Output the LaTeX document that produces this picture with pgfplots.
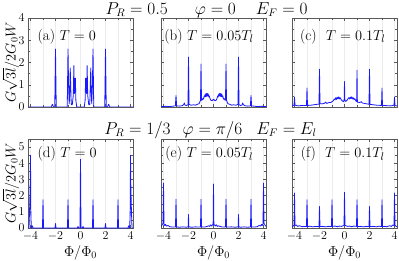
\documentclass[border=0pt]{standalone}
\usepackage{pgfplots}
\pgfplotsset{compat=1.18}
\definecolor{curve}{RGB}{25,25,255}
\pgfplotsset{
  panel/.style={
    scale only axis, width=105pt, height=89pt,
    xmin=-4.2, xmax=4.2,
    xtick={-4,-2,0,2,4}, minor xtick={-3,-1,1,3},
    xmajorgrids=true, xminorgrids=true,
    major grid style={gray!15, line width=0.5pt},
    minor grid style={gray!15, line width=0.5pt},
    minor y tick num=1,
    axis line style={black!65},
    every tick/.style={black!65},
    major tick length=3pt, minor tick length=2pt,
    tick label style={font=\fontsize{11.5}{13}\selectfont},
    label style={font=\fontsize{14.5}{16}\selectfont},
    xlabel style={at={(rel axis cs:0.5,-0.275)}, anchor=center},
    clip=true,
  },
  toprow/.style={ymin=0, ymax=4, ytick={0,1,2,3,4}, xticklabels={}},
  botrow/.style={ymin=0, ymax=5.5, ytick={0,1,2,3,4,5}, xlabel={$\Phi/\Phi_0$}},
  noy/.style={yticklabels={}},
  ylab/.style={ylabel={$G\sqrt{3l}/2G_0W$}, ylabel style={at={(rel axis cs:-0.165,0.5)}, anchor=center, inner sep=0.5pt, font=\fontsize{13.8}{15}\selectfont}},
  curv/.style={curve, line width=0.8pt, line join=round},
}
\newcommand{\plab}[3]{\node[anchor=base west, inner sep=0pt, font=\fontsize{15}{17}\selectfont] at (rel axis cs:#1,#2) {#3};}
\begin{document}
\begin{tikzpicture}
\useasboundingbox (0,0) rectangle (399pt,260pt);
% titles
\node[font=\fontsize{16}{18}\selectfont] at (206.5pt,250pt) {$P_R=0.5\hspace{27pt}\varphi=0\hspace{20pt}E_F=0$};
\node[font=\fontsize{16}{18}\selectfont] at (210.5pt,130pt) {$P_R=1/3\hspace{12pt}\varphi=\pi/6\hspace{14pt}E_F=E_l$};
% (a)
\begin{axis}[panel, toprow, ylab, at={(28pt,153pt)}, anchor=south west]
\addplot[curv] coordinates {
(-4.2,0) (-2.35,0) (-2.25,0.12) (-2.15,0) (-2.06,0) (-2.0,2.6) (-1.94,0)
(-1.06,0) (-1.0,2.6) (-0.95,0.9) (-0.9,0.15) (-0.86,0.6) (-0.82,1.75) (-0.78,0.9) (-0.74,0.1)
(-0.66,0.1) (-0.58,0.5) (-0.53,1.86) (-0.49,0.6) (-0.45,0.7) (-0.41,1.3) (-0.37,0.3) (-0.3,0)
(0.3,0) (0.37,0.3) (0.41,1.3) (0.45,0.7) (0.49,0.6) (0.53,1.86) (0.58,0.5) (0.66,0.1)
(0.74,0.1) (0.78,0.9) (0.82,1.75) (0.86,0.6) (0.9,0.15) (0.95,0.9) (1.0,2.6) (1.06,0)
(1.94,0) (2.0,2.6) (2.06,0) (2.15,0) (2.25,0.12) (2.35,0) (4.2,0)};
\plab{0.09}{0.75}{(a) $T=0$}
\end{axis}
% (b)
\begin{axis}[panel, toprow, noy, at={(161pt,153pt)}, anchor=south west]
\addplot[curv] coordinates {
(-4.2,0.02) (-3.8,0.03) (-3.5,0.02) (-3.2,0.04) (-3.05,0.05) (-3.0,0.52) (-2.95,0.05)
(-2.7,0.04) (-2.5,0.06) (-2.4,0.1) (-2.33,0.18) (-2.28,0.08) (-2.15,0.07) (-2.04,0.1) (-2.0,2.25) (-1.96,0.12)
(-1.8,0.08) (-1.6,0.1) (-1.45,0.08) (-1.3,0.12) (-1.15,0.15) (-1.04,0.3) (-1.0,1.93) (-0.96,0.3)
(-0.9,0.32) (-0.85,0.38) (-0.8,0.35) (-0.75,0.5) (-0.7,0.45) (-0.66,0.58) (-0.62,0.46) (-0.58,0.6)
(-0.54,0.48) (-0.5,0.62) (-0.46,0.5) (-0.42,0.58) (-0.38,0.45) (-0.34,0.5) (-0.28,0.38) (-0.2,0.3)
(-0.12,0.28) (-0.05,0.32) (0,0.35) (0.05,0.32) (0.12,0.28) (0.2,0.3) (0.28,0.38) (0.34,0.5)
(0.38,0.45) (0.42,0.58) (0.46,0.5) (0.5,0.62) (0.54,0.48) (0.58,0.6) (0.62,0.46) (0.66,0.58)
(0.7,0.45) (0.75,0.5) (0.8,0.35) (0.85,0.38) (0.9,0.32) (0.96,0.3) (1.0,1.93) (1.04,0.3)
(1.15,0.15) (1.3,0.12) (1.45,0.08) (1.6,0.1) (1.8,0.08) (1.96,0.12) (2.0,2.25) (2.04,0.1)
(2.15,0.07) (2.28,0.08) (2.33,0.18) (2.4,0.1) (2.5,0.06) (2.7,0.04) (2.95,0.05) (3.0,0.52) (3.05,0.05)
(3.2,0.04) (3.5,0.02) (3.8,0.03) (4.2,0.02)};
\plab{0.03}{0.75}{(b) $T=0.05T_l$}
\end{axis}
% (c)
\begin{axis}[panel, toprow, noy, at={(292pt,153pt)}, anchor=south west]
\addplot[curv] coordinates {
(-4.2,0.05) (-4.04,0.08) (-4.0,0.45) (-3.96,0.08) (-3.7,0.05) (-3.4,0.07) (-3.04,0.07) (-3.0,0.85) (-2.96,0.07)
(-2.7,0.08) (-2.45,0.1) (-2.2,0.12) (-2.04,0.12) (-2.0,1.7) (-1.96,0.15) (-1.8,0.14) (-1.6,0.17)
(-1.5,0.22) (-1.42,0.16) (-1.25,0.2) (-1.1,0.2) (-1.0,0.24) (-0.9,0.28) (-0.82,0.36) (-0.76,0.32)
(-0.7,0.42) (-0.64,0.34) (-0.58,0.44) (-0.52,0.36) (-0.46,0.46) (-0.4,0.36) (-0.34,0.42) (-0.27,0.33)
(-0.18,0.28) (-0.08,0.24) (-0.03,0.3) (0,1.15) (0.03,0.3) (0.1,0.25) (0.2,0.3) (0.27,0.36)
(0.33,0.42) (0.4,0.36) (0.46,0.45) (0.52,0.37) (0.58,0.46) (0.64,0.36) (0.7,0.42) (0.76,0.33)
(0.82,0.38) (0.9,0.28) (0.97,0.25) (1.0,1.65) (1.03,0.22) (1.2,0.2) (1.35,0.24) (1.42,0.18)
(1.6,0.16) (1.8,0.14) (1.96,0.12) (2.0,1.7) (2.04,0.12) (2.3,0.1) (2.6,0.08) (2.96,0.07)
(3.0,0.85) (3.04,0.07) (3.4,0.06) (3.7,0.05) (3.96,0.08) (4.0,0.45) (4.04,0.06) (4.2,0.05)};
\plab{0.075}{0.75}{(c)\ \ $T=0.1T_l$}
\end{axis}
% (d)
\begin{axis}[panel, botrow, ylab, at={(28pt,32pt)}, anchor=south west]
\addplot[curv] coordinates {
(-4.2,0) (-4.12,0) (-4.07,1.2) (-4.03,2.5) (-4.0,4.5) (-3.97,0.8) (-3.93,0) (-3.86,0.14) (-3.8,0)
(-3.04,0) (-3.0,1.75) (-2.96,0) (-2.04,0) (-2.0,0.27) (-1.96,0) (-1.04,0) (-1.0,1.75) (-0.96,0)
(-0.26,0) (-0.2,0.1) (-0.14,0) (-0.04,0) (0,4.25) (0.04,0) (0.14,0) (0.2,0.1) (0.26,0)
(0.96,0) (1.0,1.75) (1.04,0) (1.96,0) (2.0,0.27) (2.04,0) (2.96,0) (3.0,1.75) (3.04,0)
(3.8,0) (3.86,0.14) (3.93,0) (3.97,0.8) (4.0,4.5) (4.03,2.5) (4.07,1.2) (4.12,0) (4.2,0)};
\plab{0.09}{0.79}{(d) $T=0$}
\end{axis}
% (e)
\begin{axis}[panel, botrow, noy, at={(161pt,32pt)}, anchor=south west]
\addplot[curv] coordinates {
(-4.2,0.1) (-4.1,0.2) (-4.04,0.3) (-4.0,2.78) (-3.96,0.25) (-3.9,0.15) (-3.84,0.22) (-3.76,0.12) (-3.65,0.16)
(-3.5,0.08) (-3.3,0.06) (-3.04,0.06) (-3.0,1.77) (-2.96,0.06) (-2.7,0.05) (-2.45,0.07) (-2.2,0.05)
(-2.03,0.06) (-2.0,0.83) (-1.97,0.06) (-1.7,0.05) (-1.45,0.07) (-1.2,0.06) (-1.04,0.06) (-1.0,1.77) (-0.96,0.07)
(-0.7,0.06) (-0.5,0.1) (-0.38,0.14) (-0.3,0.1) (-0.22,0.2) (-0.14,0.12) (-0.07,0.2) (-0.03,0.22) (0,2.72)
(0.03,0.22) (0.07,0.2) (0.14,0.12) (0.22,0.2) (0.3,0.1) (0.38,0.14) (0.5,0.1) (0.7,0.06)
(0.96,0.07) (1.0,1.77) (1.04,0.06) (1.2,0.06) (1.45,0.07) (1.7,0.05) (1.97,0.06) (2.0,0.83) (2.03,0.06)
(2.2,0.05) (2.45,0.07) (2.7,0.05) (2.96,0.06) (3.0,1.77) (3.04,0.06) (3.3,0.06) (3.5,0.08)
(3.65,0.16) (3.76,0.12) (3.84,0.22) (3.9,0.15) (3.96,0.25) (4.0,2.78) (4.04,0.3) (4.1,0.2) (4.2,0.1)};
\plab{0.04}{0.79}{(e) $T=0.05T_l$}
\end{axis}
% (f)
\begin{axis}[panel, botrow, noy, at={(292pt,32pt)}, anchor=south west]
\addplot[curv] coordinates {
(-4.2,0.08) (-4.1,0.12) (-4.04,0.18) (-4.0,2.16) (-3.96,0.15) (-3.85,0.18) (-3.75,0.1) (-3.6,0.14) (-3.4,0.08)
(-3.2,0.1) (-3.04,0.09) (-3.0,1.74) (-2.96,0.09) (-2.75,0.11) (-2.55,0.07) (-2.3,0.1) (-2.04,0.08)
(-2.0,1.33) (-1.96,0.09) (-1.75,0.1) (-1.5,0.07) (-1.3,0.1) (-1.04,0.09) (-1.0,1.74) (-0.96,0.1)
(-0.75,0.12) (-0.55,0.08) (-0.4,0.12) (-0.25,0.1) (-0.12,0.14) (-0.04,0.15) (0,2.2) (0.04,0.15)
(0.12,0.14) (0.25,0.1) (0.4,0.12) (0.55,0.08) (0.75,0.12) (0.96,0.1) (1.0,1.74) (1.04,0.09)
(1.3,0.1) (1.5,0.07) (1.75,0.1) (1.96,0.09) (2.0,1.33) (2.04,0.08) (2.3,0.1) (2.55,0.07) (2.75,0.11)
(2.96,0.09) (3.0,1.74) (3.04,0.09) (3.2,0.1) (3.4,0.08) (3.6,0.14) (3.75,0.1) (3.85,0.18) (3.96,0.15)
(4.0,2.16) (4.04,0.18) (4.1,0.12) (4.2,0.08)};
\plab{0.083}{0.79}{(f)\ \ $T=0.1T_l$}
\end{axis}
\end{tikzpicture}
\end{document}
